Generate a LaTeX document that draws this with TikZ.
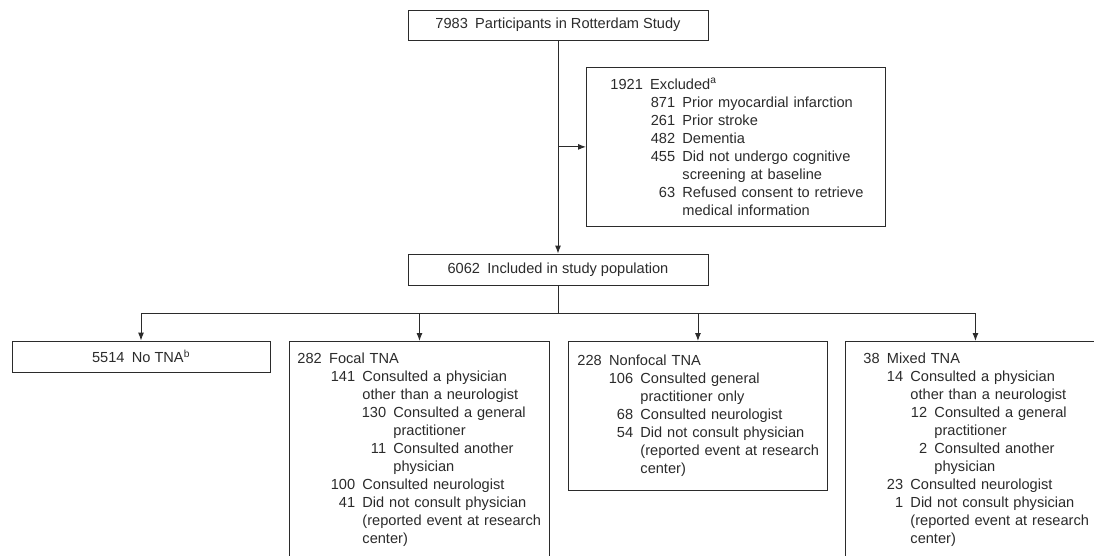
\documentclass[tikz,border=0pt]{standalone}
\usepackage{fontspec}
\setmainfont{Liberation Sans}
\usetikzlibrary{arrows.meta, calc, positioning}
\definecolor{inkgray}{HTML}{2B2B2B}
\newcommand{\tnaline}[3]{\mbox{\hspace*{#1}\llap{#2\enspace}#3}}
\tikzset{
	flowbox/.style={
			draw=inkgray,
			line width=0.9pt,
			text=inkgray,
			fill=white,
			inner sep=0pt,
			font=\fontsize{14.6}{18}\selectfont
		},
	tnabox/.style={
			flowbox,
			anchor=north west,
			align=left,
			inner ysep=11pt
		},
	link/.style={
			draw=inkgray,
			line width=0.9pt
		},
	arrowlink/.style={
			link,
			-{Latex[length=8pt,width=6pt]}
		}
}
\begin{document}
\begin{tikzpicture}[x=1pt, y=-1pt]
\useasboundingbox (0,0) rectangle (1094,556);
\clip (0,0) rectangle (1094,556);
\node[flowbox, minimum width=300pt, minimum height=30pt] (cohort) at (558,25)
  {7983\enspace Participants in Rotterdam Study};
\node[tnabox, inner xsep=24pt, text width=251pt, minimum height=158pt] (excl) at (586,67) {
  1921\enspace Excluded\textsuperscript{a}\\
  \tnaline{72pt}{871}{Prior myocardial infarction}\\
  \tnaline{72pt}{261}{Prior stroke}\\
  \tnaline{72pt}{482}{Dementia}\\
  \tnaline{72pt}{455}{Did not undergo cognitive}\\
  \tnaline{72pt}{}{screening at baseline}\\
  \tnaline{72pt}{63}{Refused consent to retrieve}\\
  \tnaline{72pt}{}{medical information}};
\node[flowbox, minimum width=300pt, minimum height=31pt] (incl) at (558,269.5)
  {6062\enspace Included in study population};

\node[flowbox, minimum width=258pt, minimum height=31pt] (notna) at (141,356.5)
  {5514\enspace No TNA\textsuperscript{b}};
\node[tnabox, inner xsep=8pt, text width=244pt] (focal) at (289,341) {
  282\enspace Focal TNA\\
  \tnaline{65pt}{141}{Consulted a physician}\\
  \tnaline{65pt}{}{other than a neurologist}\\
  \tnaline{96pt}{130}{Consulted a general}\\
  \tnaline{96pt}{}{practitioner}\\
  \tnaline{96pt}{11}{Consulted another}\\
  \tnaline{96pt}{}{physician}\\
  \tnaline{65pt}{100}{Consulted neurologist}\\
  \tnaline{65pt}{41}{Did not consult physician}\\
  \tnaline{65pt}{}{(reported event at research}\\
  \tnaline{65pt}{}{center)}};
\node[tnabox, inner xsep=9pt, text width=241pt, minimum height=149pt] (nonfocal) at (568,341) {
  228\enspace Nonfocal TNA\\
  \tnaline{63pt}{106}{Consulted general}\\
  \tnaline{63pt}{}{practitioner only}\\
  \tnaline{63pt}{68}{Consulted neurologist}\\
  \tnaline{63pt}{54}{Did not consult physician}\\
  \tnaline{63pt}{}{(reported event at research}\\
  \tnaline{63pt}{}{center)}};
\node[tnabox, inner xsep=18pt, text width=224pt] (mixed) at (845,341) {
  38\enspace Mixed TNA\\
  \tnaline{47pt}{14}{Consulted a physician}\\
  \tnaline{47pt}{}{other than a neurologist}\\
  \tnaline{71pt}{12}{Consulted a general}\\
  \tnaline{71pt}{}{practitioner}\\
  \tnaline{71pt}{2}{Consulted another}\\
  \tnaline{71pt}{}{physician}\\
  \tnaline{47pt}{23}{Consulted neurologist}\\
  \tnaline{47pt}{1}{Did not consult physician}\\
  \tnaline{47pt}{}{(reported event at research}\\
  \tnaline{47pt}{}{center)}};

% cohort -> exclusions and study population
\draw[arrowlink] (cohort) -- (incl);
\coordinate (branch) at (cohort.south |- excl.west);
\draw[arrowlink] (branch) -- (excl);

% split into the four TNA groups
\coordinate (bus) at ([yshift=-28pt]incl.south);
\draw[link] (incl) -- (bus);
\draw[link] (notna.north |- bus) -- (mixed.north |- bus);
\foreach \grp in {notna, focal, nonfocal, mixed}
  \draw[arrowlink] (\grp.north |- bus) -- (\grp);
\end{tikzpicture}
\end{document}
